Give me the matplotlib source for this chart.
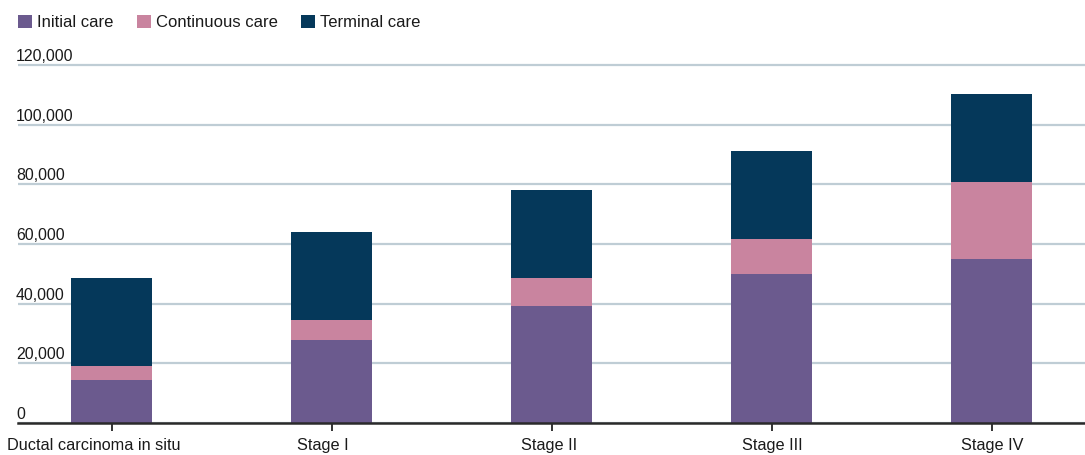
"""
Cost of breast cancer care by stage at diagnosis, split by phase of care.
Stacked bars: initial, continuous and terminal care.
"""

import matplotlib.pyplot as plt
from matplotlib.patches import Patch
from matplotlib.transforms import ScaledTranslation

plt.rcParams["font.family"] = ["Liberation Sans", "DejaVu Sans"]

STAGES = ["Ductal carcinoma in situ", "Stage I", "Stage II", "Stage III", "Stage IV"]
INITIAL = [14400, 27800, 39200, 49900, 54900]
CONTINUOUS = [4700, 6700, 9400, 11700, 25800]
TERMINAL = [29500, 29500, 29500, 29500, 29500]
Y_TICKS = [0, 20000, 40000, 60000, 80000, 100000, 120000]

# small horizontal nudges (points) for the category labels
LABEL_SHIFT = [-13, -6.5, -2, 0, 0]

SERIES = [
    ("Initial care", INITIAL, "#6b5a8e"),
    ("Continuous care", CONTINUOUS, "#c9849f"),
    ("Terminal care", TERMINAL, "#05385a"),
]

TEXT = "#1a1a1a"
GRID = "#bfcdd5"

fig = plt.figure(figsize=(10.85, 4.55), dpi=100)
ax = fig.add_axes([18 / 1085, 32 / 455, 1067 / 1085, 361 / 455])

x = list(range(len(STAGES)))
bottom = [0] * len(STAGES)
for name, vals, color in SERIES:
    ax.bar(x, vals, width=0.368, bottom=bottom, color=color, label=name, zorder=3)
    bottom = [b + v for b, v in zip(bottom, vals)]

ax.set_xlim(-0.427, 4.423)
ax.set_ylim(0, 121000)

# horizontal grid, labels sit on top of each line at the left edge
ax.set_yticks(Y_TICKS)
ax.tick_params(axis="y", left=False, labelleft=False)
ax.grid(axis="y", color=GRID, linewidth=1.6, zorder=0)
for v in Y_TICKS:
    ax.annotate(f"{v:,}", xy=(0, v), xycoords=("axes fraction", "data"),
                xytext=(-2, 4), textcoords="offset pixels",
                ha="left", va="baseline", fontsize=11.4, color=TEXT)

ax.set_xticks(x)
ax.set_xticklabels(STAGES, fontsize=11.7, color=TEXT)
ax.tick_params(axis="x", length=6, width=1.3, color="#222222", pad=5)
for lbl, dx in zip(ax.get_xticklabels(), LABEL_SHIFT):
    lbl.set_transform(lbl.get_transform() + ScaledTranslation(dx / 72, 0, fig.dpi_scale_trans))

for side in ["top", "right", "left"]:
    ax.spines[side].set_visible(False)
ax.spines["bottom"].set_color("#2a2a2a")
ax.spines["bottom"].set_linewidth(1.8)
ax.spines["bottom"].set_zorder(4)

handles = [Patch(facecolor=c, label=n) for n, _, c in SERIES]
fig.legend(handles=handles, loc="upper left",
           bbox_to_anchor=(18 / 1085, 1 - 15 / 455),
           ncol=3, frameon=False, fontsize=12, handlelength=0.84,
           handleheight=0.84, handletextpad=0.3, columnspacing=1.4,
           labelcolor=TEXT, borderpad=0, borderaxespad=0)

fig.savefig("out.png", dpi=100, facecolor="white")
